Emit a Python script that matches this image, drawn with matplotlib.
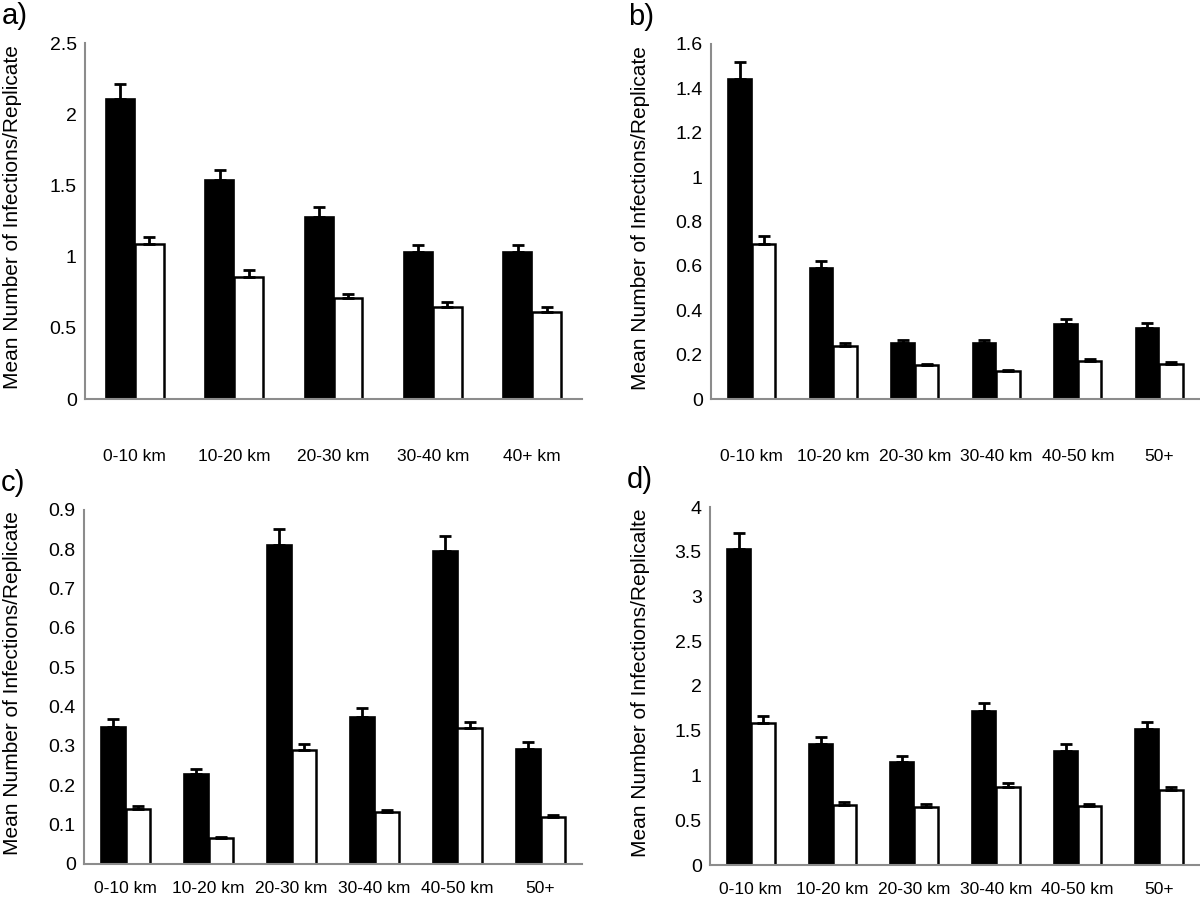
import matplotlib
matplotlib.use("Agg")
import matplotlib.pyplot as plt
import numpy as np

plt.rcParams['font.family'] = ['Liberation Sans', 'DejaVu Sans']

# Datos de cada panel (media y error superior)
cats_a = ['0-10 km', '10-20 km', '20-30 km', '30-40 km', '40+ km']
black_a = [2.11, 1.535, 1.28, 1.03, 1.03]
black_err_a = [0.105, 0.075, 0.065, 0.052, 0.052]
white_a = [1.086, 0.86, 0.706, 0.647, 0.612]
white_err_a = [0.054, 0.044, 0.034, 0.031, 0.031]

cats_b = ['0-10 km', '10-20 km', '20-30 km', '30-40 km', '40-50 km', '50+']
black_b = [1.443, 0.589, 0.253, 0.253, 0.339, 0.32]
black_err_b = [0.076, 0.033, 0.015, 0.015, 0.02, 0.021]
white_b = [0.698, 0.241, 0.151, 0.126, 0.172, 0.16]
white_err_b = [0.035, 0.013, 0.008, 0.006, 0.007, 0.007]

cats_c = ['0-10 km', '10-20 km', '20-30 km', '30-40 km', '40-50 km', '50+']
black_c = [0.348, 0.229, 0.81, 0.374, 0.795, 0.292]
black_err_c = [0.02, 0.013, 0.042, 0.022, 0.04, 0.017]
white_c = [0.139, 0.066, 0.289, 0.131, 0.345, 0.12]
white_err_c = [0.008, 0.003, 0.015, 0.006, 0.017, 0.005]

cats_d = ['0-10 km', '10-20 km', '20-30 km', '30-40 km', '40-50 km', '50+']
black_d = [3.529, 1.351, 1.15, 1.722, 1.276, 1.514]
black_err_d = [0.185, 0.081, 0.067, 0.092, 0.071, 0.082]
white_d = [1.592, 0.668, 0.646, 0.868, 0.657, 0.835]
white_err_d = [0.078, 0.037, 0.033, 0.045, 0.029, 0.041]

paneles = [
    ('a)', cats_a, black_a, black_err_a, white_a, white_err_a, 2.5, 0.5,
     'Mean Number of Infections/Replicate', [85, 43, 582, 399], 36),
    ('b)', cats_b, black_b, black_err_b, white_b, white_err_b, 1.6, 0.2,
     'Mean Number of Infections/Replicate', [711, 44, 1200, 399], 36),
    ('c)', cats_c, black_c, black_err_c, white_c, white_err_c, 0.9, 0.1,
     'Mean Number of Infections/Replicate', [84, 510, 582, 864], 12),
    ('d)', cats_d, black_d, black_err_d, white_d, white_err_d, 4.0, 0.5,
     'Mean Number of Infections/Replicalte', [710, 507, 1200, 865], 12),
]

W, H = 1200, 902
fig = plt.figure(figsize=(12, 9.02), dpi=100)

for letra, cats, bv, be, wv, we, ymax, paso, ylab, caja, pad_x in paneles:
    x0, y0, x1, y1 = caja
    ax = fig.add_axes([x0 / W, 1 - y1 / H, (x1 - x0) / W, (y1 - y0) / H])
    x = np.arange(len(cats))
    ancho = 0.29
    ax.bar(x - ancho / 2, bv, ancho, color='black', edgecolor='black', linewidth=1.2,
           yerr=[np.zeros(len(bv)), be], error_kw=dict(ecolor='black', elinewidth=2,
                                                       capsize=4, capthick=2))
    ax.bar(x + ancho / 2, wv, ancho, color='white', edgecolor='black', linewidth=1.8,
           yerr=[np.zeros(len(wv)), we], error_kw=dict(ecolor='black', elinewidth=2,
                                                       capsize=4, capthick=2))
    ax.set_xlim(-0.5, len(cats) - 0.5)
    ax.set_ylim(0, ymax)
    ticks = np.arange(0, ymax + paso / 2, paso)
    ax.set_yticks(ticks)
    ax.set_yticklabels(['%g' % t for t in ticks], fontsize=14)
    ax.set_xticks(x)
    ax.set_xticklabels(cats, fontsize=12.5)
    ax.tick_params(axis='both', length=0)
    ax.tick_params(axis='x', pad=pad_x)
    ax.tick_params(axis='y', pad=6)
    for lado in ['top', 'right']:
        ax.spines[lado].set_visible(False)
    for lado in ['left', 'bottom']:
        ax.spines[lado].set_color('#8c8c8c')
        ax.spines[lado].set_linewidth(1.5)
    ax.set_ylabel(ylab, fontsize=15)
    # borde derecho de la etiqueta del eje y, en pixeles de la figura
    x_lab = 22 if x0 < 600 else 650
    ax.yaxis.set_label_coords((x_lab - x0) / (x1 - x0), 0.51)
    fig.text((x0 - 83) / W, 1 - (y0 - 27) / H, letra, fontsize=21, va='center', ha='left')

fig.savefig('out.png', dpi=100, facecolor='white')
